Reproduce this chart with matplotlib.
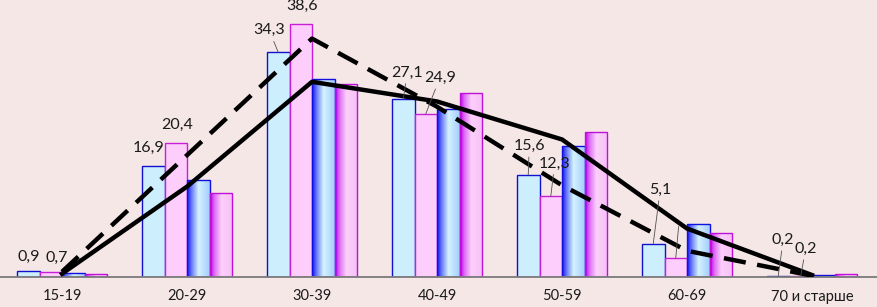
import numpy as np
import matplotlib
matplotlib.use('Agg')
import matplotlib.pyplot as plt
from matplotlib.colors import LinearSegmentedColormap

plt.rcParams['font.family'] = ['Lato', 'DejaVu Sans']

# Data
groups = ['15-19', '20-29', '30-39', '40-49', '50-59', '60-69', '70 и старше']
s1 = [0.9, 16.9, 34.3, 27.1, 15.6, 5.1, 0.2]
s2 = [0.7, 20.4, 38.6, 24.9, 12.3, 2.9, 0.2]
s3 = [0.6, 14.8, 30.2, 25.6, 20.0, 8.1, 0.3]
s4 = [0.4, 12.8, 29.4, 28.1, 22.1, 6.7, 0.4]
line_dash = [0.8, 18.6, 36.4, 26.0, 14.0, 4.0, 0.2]
line_solid = [0.5, 13.8, 29.8, 26.8, 21.0, 7.4, 0.3]

# labels shown on the chart: (group, text, offset in px, leader)
labels1 = [(0, '0,9', (0, 14), False), (1, '16,9', (-5, 18), False),
           (2, '34,3', (-9, 22), True), (3, '27,1', (4, 27), True),
           (4, '15,6', (1, 29), True), (5, '5,1', (7, 54), True),
           (6, '0,2', (5, 36), True)]
labels2 = [(0, '0,7', (6, 15), False), (1, '20,4', (1, 18), False),
           (2, '38,6', (1, 18), False), (3, '24,9', (14, 36), True),
           (4, '12,3', (4, 33), True), (5, '', (3, 33), True),
           (6, '0,2', (5, 27), True)]

bg = '#f6e7e7'
fig = plt.figure(figsize=(8.78, 3.07), dpi=100, facecolor=bg)
ax = fig.add_axes([0, 30 / 307, 1, 277 / 307])
ax.set_facecolor(bg)

x = np.arange(len(groups))
w = 0.18
b1 = ax.bar(x - 0.27, s1, w, color='#cdeefd', edgecolor='#1010d0', lw=1, zorder=2)
b2 = ax.bar(x - 0.09, s2, w, color='#fdcdfb', edgecolor='#c81ed8', lw=1, zorder=2)
b3 = ax.bar(x + 0.09, s3, w, color='none', edgecolor='#1010e0', lw=1, zorder=2.2)
b4 = ax.bar(x + 0.27, s4, w, color='none', edgecolor='#c010d8', lw=1, zorder=2.2)

cm_blue = LinearSegmentedColormap.from_list(
    'b', [(0, '#1414f0'), (0.2, '#6a7cf8'), (0.5, '#d4f2ff'), (1, '#a4cdfc')])
cm_mag = LinearSegmentedColormap.from_list(
    'm', [(0, '#c000f0'), (0.2, '#e070f6'), (0.5, '#fcd0fa'), (1, '#f6c0f6')])
grad = np.linspace(0, 1, 64).reshape(1, -1)
for bars, cm in [(b3, cm_blue), (b4, cm_mag)]:
    for p in bars:
        x0, y0 = p.get_x(), p.get_y()
        im = ax.imshow(grad, cmap=cm, aspect='auto', zorder=2.1,
                       extent=[x0, x0 + p.get_width(), y0, y0 + p.get_height()])
        im.set_clip_path(p)

ax.plot(x, line_dash, color='black', lw=3.2, dashes=[5, 2.6], zorder=3,
        solid_capstyle='butt')
ax.plot(x, line_solid, color='black', lw=3.2, zorder=3, solid_joinstyle='round')

for bars, labs in [(b1, labels1), (b2, labels2)]:
    for i, txt, off, leader in labs:
        p = bars[i]
        xy = (p.get_x() + p.get_width() / 2, p.get_height())
        ap = dict(arrowstyle='-', color='#505050', lw=0.6, shrinkA=1, shrinkB=0) if leader else None
        ax.annotate(txt, xy, xytext=off, textcoords='offset pixels',
                    ha='center', va='center', fontsize=11.5, color='#1a1a1a',
                    arrowprops=ap, zorder=4)

ax.set_xlim(-62 / 125, (878 - 62) / 125)
ax.set_ylim(0, 277 / 6.55)
ax.set_xticks(x)
ax.set_xticklabels(groups, fontsize=10.5, color='#1a1a1a')
ax.tick_params(axis='x', length=0, pad=9)
ax.set_yticks([])
for s in ['top', 'left', 'right']:
    ax.spines[s].set_visible(False)
ax.spines['bottom'].set_color('#7a7a7a')
ax.spines['bottom'].set_linewidth(1.3)

fig.savefig('out.png', dpi=100, facecolor=bg)
